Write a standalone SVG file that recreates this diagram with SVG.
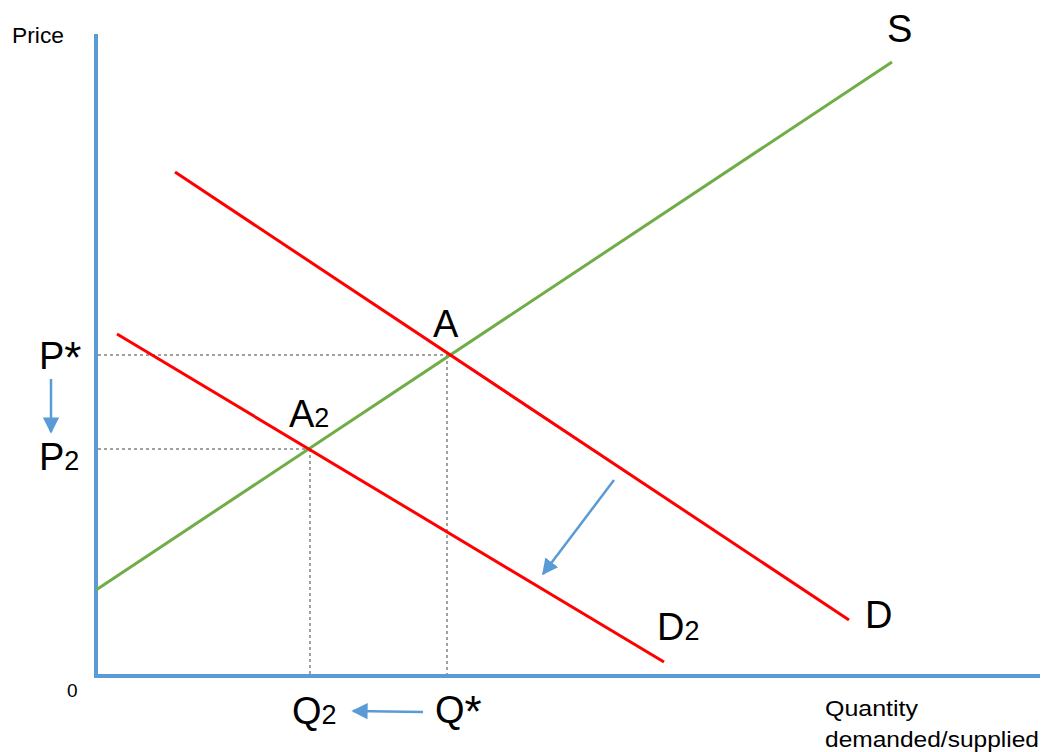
<svg xmlns="http://www.w3.org/2000/svg" width="1045" height="752" viewBox="0 0 1045 752">
<style>
.t{font-family:"Liberation Sans",Arial,sans-serif;fill:#000}
.big{font-size:38px}
.sub{font-size:27px}
.sm{font-size:22px}
.axis{stroke:#5B9BD5;stroke-width:4;fill:none}
.dash{stroke:#444;stroke-width:1;stroke-dasharray:3,3;fill:none}
.red{stroke:#FF0000;stroke-width:3;fill:none}
.green{stroke:#70AD47;stroke-width:3;fill:none}
.arr{stroke:#5B9BD5;stroke-width:2.5;fill:none;marker-end:url(#ah)}
</style>
<defs>
<marker id="ah" viewBox="0 0 10 10" refX="9" refY="5" markerWidth="6.5" markerHeight="6.5" markerUnits="strokeWidth" orient="auto">
<path d="M0,0 L10,5 L0,10 z" fill="#5B9BD5"/>
</marker>
</defs>
<rect width="1045" height="752" fill="#fff"/>
<g id="axes">
<line class="axis" x1="96" y1="34" x2="96" y2="677"/>
<line class="axis" x1="94" y1="676" x2="1040" y2="676"/>
</g>
<g id="connectors">
<line class="dash" x1="98" y1="355" x2="447" y2="355"/>
<line class="dash" x1="447" y1="355" x2="447" y2="674"/>
<line class="dash" x1="98" y1="449" x2="310" y2="449"/>
<line class="dash" x1="310" y1="449" x2="310" y2="674"/>
<line class="arr" x1="51" y1="379" x2="51" y2="432"/>
<line class="arr" x1="423" y1="712" x2="353" y2="711"/>
<line class="arr" x1="614" y1="480" x2="543" y2="574"/>
</g>
<g id="curve-S"><line class="green" x1="96" y1="590" x2="892" y2="62"/></g>
<g id="curve-D"><line class="red" x1="175" y1="172" x2="849" y2="620"/></g>
<g id="curve-D2"><line class="red" x1="117" y1="334" x2="664" y2="662"/></g>
<g id="labels">
<text class="t sm" x="12" y="43" textLength="52" lengthAdjust="spacingAndGlyphs">Price</text>
<text class="t" x="67" y="697" font-size="19">0</text>
<text class="t big" x="887" y="42">S</text>
<text class="t big" x="433" y="337">A</text>
<text class="t big" x="289" y="427">A<tspan class="sub">2</tspan></text>
<text class="t big" x="39" y="369">P<tspan font-size="44" dy="4">*</tspan></text>
<text class="t big" x="39" y="470">P<tspan class="sub">2</tspan></text>
<text class="t big" x="292" y="724">Q<tspan class="sub">2</tspan></text>
<text class="t big" x="435" y="723">Q<tspan font-size="44" dy="4">*</tspan></text>
<text class="t big" x="865" y="628">D</text>
<text class="t big" x="657" y="640">D<tspan class="sub">2</tspan></text>
<text class="t sm" x="825" y="716" textLength="93" lengthAdjust="spacingAndGlyphs">Quantity</text>
<text class="t sm" x="825" y="747" textLength="214" lengthAdjust="spacingAndGlyphs">demanded/supplied</text>
</g>
</svg>
